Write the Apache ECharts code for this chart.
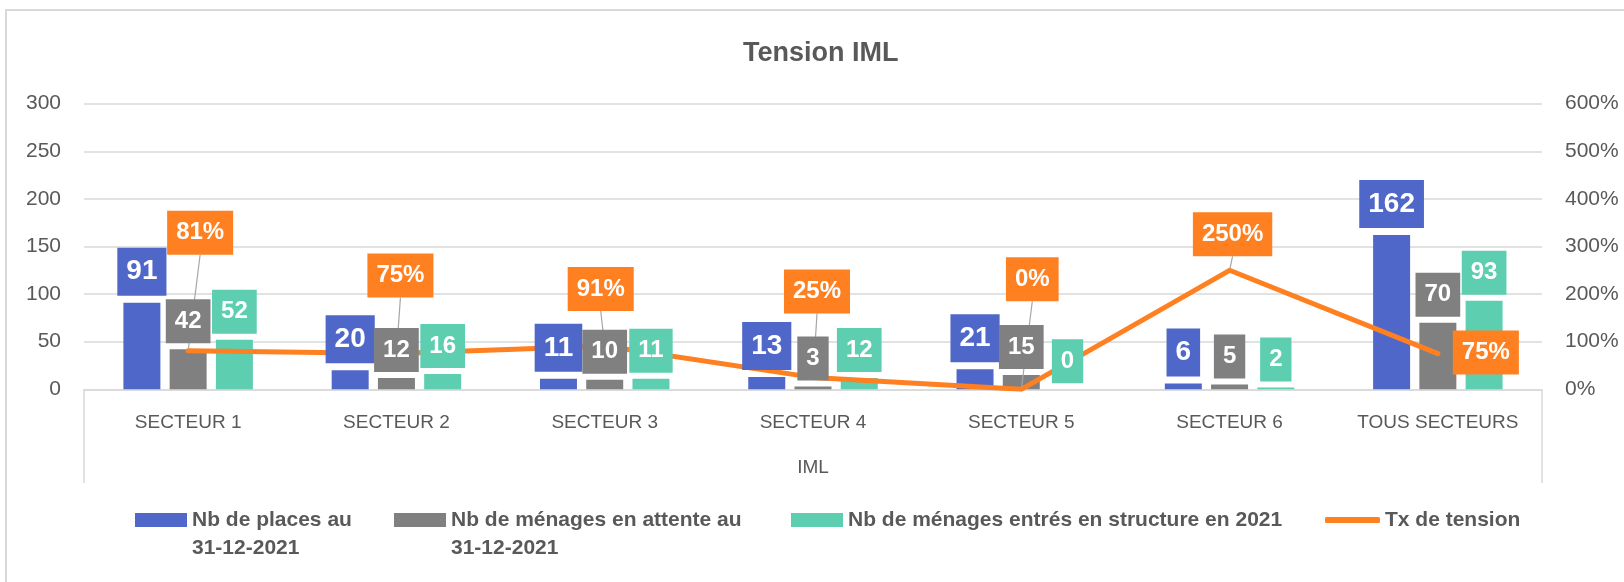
<!DOCTYPE html>
<html>
<head>
<meta charset="utf-8">
<script src="https://cdn.jsdelivr.net/npm/echarts@6/dist/echarts.min.js"></script>
<style>
  html, body { margin: 0; background: #fff; }
  #chart { width: 1624px; height: 582px; }
</style>
</head>
<body>
<div id="chart"></div>
<script>
// données
const categories = ["SECTEUR 1", "SECTEUR 2", "SECTEUR 3", "SECTEUR 4", "SECTEUR 5", "SECTEUR 6", "TOUS SECTEURS"];
const places = [91, 20, 11, 13, 21, 6, 162];
const attente = [42, 12, 10, 3, 15, 5, 70];
const entres = [52, 16, 11, 12, 0, 2, 93];
const tension = [0.81, 0.75, 0.91, 0.25, 0, 2.5, 0.75];

const seriesNames = [
  "Nb de places au\n31-12-2021",
  "Nb de ménages en attente au\n31-12-2021",
  "Nb de ménages entrés en structure en 2021",
  "Tx de tension"
];

// déplacement des étiquettes du taux (comme dans Excel)
const tensionLabelMove = [[12, -89], [4, -49], [-4, -28], [4, -57], [11, -81], [3, -7], [48, 28]];
const tensionLeader = [true, true, true, true, true, true, false];

const BLUE = "#4F67C8", GREY = "#808080", TEAL = "#5DCEB0", ORANGE = "#FF8021";
const TXT = "#595959", LINE = "#D9D9D9";
const FONT = "Liberation Sans";

const G_LEFT = 84, G_RIGHT = 1542, G_TOP = 103.7, G_BOTTOM = 389.3;

let chart = echarts.init(document.getElementById("chart"));

// barres (sous la courbe)
function barSeries(name, data, color) {
  return {
    name: name,
    type: "bar",
    z: 1,
    data: data,
    barWidth: 37,
    barGap: "25%",
    itemStyle: { color: color }
  };
}

// étiquettes des barres : même placement sur un axe caché, au-dessus de la courbe
function barLabels(data, color, big) {
  return {
    name: "",
    type: "bar",
    xAxisIndex: 1,
    z: 3,
    silent: true,
    data: data,
    barWidth: 37,
    barGap: "25%",
    itemStyle: { color: "rgba(0,0,0,0)" },
    label: {
      show: true,
      position: "top",
      distance: big ? 7 : 6,
      color: "#fff",
      fontFamily: FONT,
      fontWeight: "bold",
      fontSize: big ? 28 : 24,
      lineHeight: big ? 28 : 24,
      padding: [10, 9, 10, 9],
      backgroundColor: color
    }
  };
}

// une légende par élément pour les placer comme dans Excel
function legendBox(name, left, top, w, h, icon, twoLines) {
  return {
    left: left,
    top: top,
    padding: 0,
    itemGap: 0,
    itemWidth: w,
    itemHeight: h,
    icon: icon,
    selectedMode: false,
    data: [name],
    // ligne vide en tête : la première ligne du texte reste au niveau du symbole
    formatter: twoLines ? (n => "\n" + n) : (n => n),
    textStyle: { fontFamily: FONT, fontWeight: "bold", fontSize: 21, lineHeight: 28, color: TXT }
  };
}

const option = {
  animation: false,
  backgroundColor: "#fff",
  title: {
    text: "Tension IML",
    left: 743,
    top: 40,
    padding: 0,
    textStyle: { fontFamily: FONT, fontWeight: "bold", fontSize: 27, color: TXT }
  },
  legend: [
    legendBox(seriesNames[0], 135, 478, 52, 14, "rect", true),
    legendBox(seriesNames[1], 394, 478, 52, 14, "rect", true),
    legendBox(seriesNames[2], 791, 506, 52, 14, "rect", false),
    legendBox(seriesNames[3], 1325, 506, 55, 6, "roundRect", false)
  ],
  grid: {
    left: G_LEFT,
    right: 1624 - G_RIGHT,
    top: G_TOP,
    bottom: 582 - G_BOTTOM,
    outerBoundsMode: "none"
  },
  xAxis: [
    {
      type: "category",
      data: categories,
      axisLine: { lineStyle: { color: LINE, width: 1.5 } },
      axisTick: { show: false },
      axisLabel: { interval: 0, fontFamily: FONT, fontSize: 19, color: TXT, margin: 24 },
      name: "IML",
      nameLocation: "middle",
      nameGap: 69,
      nameTextStyle: { fontFamily: FONT, fontSize: 19, color: TXT }
    },
    { type: "category", data: categories, show: false }
  ],
  yAxis: [
    {
      type: "value",
      min: 0,
      max: 300,
      interval: 50,
      axisLine: { show: false },
      axisTick: { show: false },
      axisLabel: { fontFamily: FONT, fontSize: 21, color: TXT, margin: 23 },
      splitLine: { lineStyle: { color: LINE, width: 1.5 } }
    },
    {
      type: "value",
      min: 0,
      max: 6,
      interval: 1,
      position: "right",
      axisLine: { show: false },
      axisTick: { show: false },
      splitLine: { show: false },
      axisLabel: {
        fontFamily: FONT, fontSize: 21, color: TXT, margin: 23,
        formatter: v => Math.round(v * 100) + "%"
      }
    }
  ],
  series: [
    barSeries(seriesNames[0], places, BLUE),
    barSeries(seriesNames[1], attente, GREY),
    barSeries(seriesNames[2], entres, TEAL),
    {
      name: seriesNames[3],
      type: "line",
      yAxisIndex: 1,
      z: 2,
      data: tension.map((v, i) => ({ value: v, labelLine: { show: tensionLeader[i] } })),
      symbol: "circle",
      symbolSize: 4,
      itemStyle: { color: ORANGE },
      lineStyle: { color: ORANGE, width: 5, cap: "round", join: "round" },
      label: {
        show: true,
        position: "top",
        distance: 5,
        color: "#fff",
        fontFamily: FONT,
        fontWeight: "bold",
        fontSize: 24,
        lineHeight: 24,
        padding: [10, 9, 10, 9],
        backgroundColor: ORANGE,
        formatter: p => Math.round(p.value * 100) + "%"
      },
      labelLine: { show: true, showAbove: true, length2: 0, smooth: false, lineStyle: { color: "#A6A6A6", width: 1.2 } },
      labelLayout: p => ({ dx: tensionLabelMove[p.dataIndex][0], dy: tensionLabelMove[p.dataIndex][1] })
    },
    barLabels(places, BLUE, true),
    barLabels(attente, GREY, false),
    barLabels(entres, TEAL, false)
  ],
  graphic: [
    // cadre du graphique
    { type: "rect", silent: true, shape: { x: 6, y: 10, width: 1700, height: 700 },
      style: { fill: "none", stroke: LINE, lineWidth: 2 } },
    // bords de la zone des catégories
    { type: "line", silent: true, shape: { x1: G_LEFT, y1: G_BOTTOM, x2: G_LEFT, y2: 483 },
      style: { stroke: LINE, lineWidth: 1.5 } },
    { type: "line", silent: true, shape: { x1: G_RIGHT, y1: G_BOTTOM, x2: G_RIGHT, y2: 483 },
      style: { stroke: LINE, lineWidth: 1.5 } }
  ]
};

chart.setOption(option);
</script>
</body>
</html>
